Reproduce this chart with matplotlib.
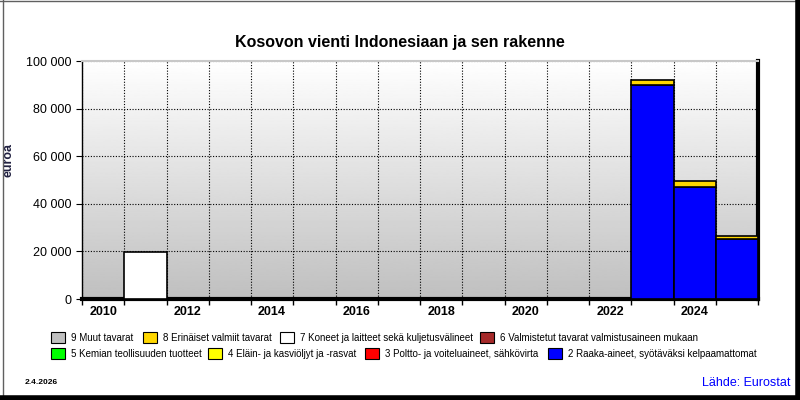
import numpy as np
import matplotlib.pyplot as plt
from matplotlib.patches import Rectangle
from matplotlib.lines import Line2D
from matplotlib.ticker import FuncFormatter

plt.rcParams['font.family'] = ['Liberation Sans', 'DejaVu Sans']

# ------------------------------------------------------------
# data (euroa), years 2010-2025
# ------------------------------------------------------------
years = np.arange(2010, 2026)

cat_labels = ["9 Muut tavarat", "8 Erinäiset valmiit tavarat",
              "7 Koneet ja laitteet sekä kuljetusvälineet",
              "6 Valmistetut tavarat valmistusaineen mukaan",
              "5 Kemian teollisuuden tuotteet",
              "4 Eläin- ja kasviöljyt ja -rasvat",
              "3 Poltto- ja voiteluaineet, sähkövirta",
              "2 Raaka-aineet, syötäväksi kelpaamattomat"]
cat_colors = ["#c0c0c0", "#ffd700", "#ffffff", "#a52a2a",
              "#00ff00", "#ffff00", "#ff0000", "#0000ff"]

v2 = [0, 0, 0, 0, 0, 0, 0, 0, 0, 0, 0, 300, 300, 89900, 46900, 25400]
v3 = [0] * 16
v4 = [0] * 16
v5 = [0] * 16
v6 = [0] * 16
v7 = [0, 19750, 0, 0, 0, 0, 0, 0, 0, 0, 0, 0, 0, 0, 0, 0]
v8 = [0, 0, 0, 0, 0, 0, 0, 0, 0, 0, 0, 0, 0, 2100, 2500, 900]
v9 = [0] * 16

# stacking order bottom -> top
stack = [v2, v3, v4, v5, v6, v7, v8, v9]
stack_colors = cat_colors[::-1]

# ------------------------------------------------------------
# figure
# ------------------------------------------------------------
fig = plt.figure(figsize=(8, 4), dpi=100)
ax = fig.add_axes([0.1025, 0.2525, 0.845, 0.595])

# gradient background
grad = np.linspace(1.0, 0.75, 256).reshape(-1, 1)
ax.imshow(grad, cmap="gray", vmin=0, vmax=1, aspect="auto",
          extent=[0, 1, 0, 1], transform=ax.transAxes, zorder=0)

bottom = np.zeros(len(years))
for vals, col in zip(stack, stack_colors):
    vals = np.array(vals, dtype=float)
    mask = vals > 0
    ax.bar(years[mask], vals[mask], width=1.0, bottom=bottom[mask],
           color=col, edgecolor="black", linewidth=1.2, zorder=3)
    bottom += vals

ax.set_xlim(2009.5, 2025.5)
ax.set_ylim(0, 100000)

ax.set_xticks(np.arange(2010, 2026, 2))
ax.set_xticklabels([str(y) for y in range(2010, 2026, 2)],
                   fontsize=9, fontweight="bold")
ax.set_xticks(np.arange(2009.5, 2026, 1), minor=True)
ax.tick_params(axis="x", which="major", length=0, pad=5)
ax.tick_params(axis="x", which="minor", length=4, width=1, direction="out")

ax.set_yticks(np.arange(0, 100001, 20000))
ax.yaxis.set_major_formatter(FuncFormatter(lambda v, p: f"{int(v):,}".replace(",", " ")))
ax.tick_params(axis="y", length=4, labelsize=9)

ax.grid(True, axis="y", which="major", color="black", linestyle=(0, (1, 1.5)), linewidth=0.8, zorder=1)
ax.grid(True, axis="x", which="minor", color="black", linestyle=(0, (1, 1.5)), linewidth=0.8, zorder=1)
ax.set_axisbelow(True)

ax.spines["left"].set_linewidth(1)
ax.spines["top"].set_color("#c8c8c8")
ax.spines["top"].set_linewidth(1.5)
ax.spines["bottom"].set_linewidth(3)
ax.spines["right"].set_linewidth(3)

fig.text(0.003, 0.6, "euroa", rotation=90, fontsize=9, fontweight="bold",
         color="#202040", ha="left", va="center")

fig.text(0.5, 0.893, "Kosovon vienti Indonesiaan ja sen rakenne",
         ha="center", va="center", fontsize=11.5, fontweight="bold")

# legend (manual flow layout)
rows = [[(51, 0), (143, 1), (280, 2), (480, 3)],
        [(51, 4), (208, 5), (365, 6), (548, 7)]]
row_y = [338, 354]
for r, items in enumerate(rows):
    y = row_y[r]
    for xpx, idx in items:
        fig.patches.append(Rectangle((xpx / 800, 1 - (y + 5) / 400), 14 / 800, 11 / 400,
                                     transform=fig.transFigure, facecolor=cat_colors[idx],
                                     edgecolor="black", linewidth=0.8))
        fig.text((xpx + 20) / 800, 1 - y / 400, cat_labels[idx], fontsize=7,
                 ha="left", va="center")

fig.text(25 / 800, 1 - 383 / 400, "2.4.2026", fontsize=6, fontweight="bold",
         ha="left", va="center")
fig.text(790 / 800, 1 - 383 / 400, "Lähde: Eurostat", fontsize=9, color="#0000ff",
         ha="right", va="center")

# outer frame
fig.lines.append(Line2D([0.004, 0.004], [0.0, 1.0], transform=fig.transFigure, color="#606060", linewidth=1))
fig.lines.append(Line2D([0.0, 1.0], [0.997, 0.997], transform=fig.transFigure, color="#606060", linewidth=1))
fig.lines.append(Line2D([0.997, 0.997], [0.0, 1.0], transform=fig.transFigure, color="black", linewidth=4))
fig.lines.append(Line2D([0.0, 1.0], [0.005, 0.005], transform=fig.transFigure, color="black", linewidth=4))

fig.savefig("out.png", dpi=100)
